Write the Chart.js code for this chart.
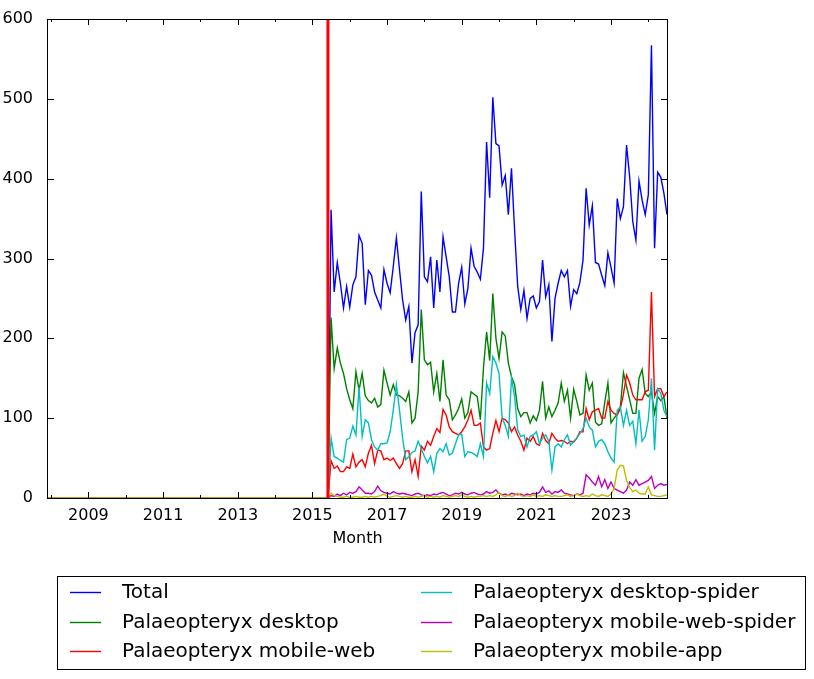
<!DOCTYPE html>
<html lang="en">
<head>
    <meta charset="UTF-8">
    <title>Palaeopteryx monthly pageviews</title>
    <script src="https://cdn.jsdelivr.net/npm/chart.js@4"></script>
    <style>
        body { margin: 0; background: #fff; }
        #chart { display: block; }
    </style>
</head>
<body>
    <canvas id="chart" width="814" height="679"></canvas>

    <script>
        // monthly values, first one is Jul 2015, last one Jul 2024
        const firstMonth = [2015, 7];
        const zeroSpan = [[2007, 12], [2015, 6]];   // series sit at 0 before the data starts
        const markerMonth = [2015, 6];               // red vertical line
        const axisEnd = [2024, 7];

        const total = [361, 258, 295, 269, 238, 265, 239, 267, 277, 329,
            319, 242, 285, 279, 258, 248, 238, 286, 269, 257,
            290, 326, 286, 248, 223, 240, 169, 207, 217, 384,
            277, 271, 302, 238, 298, 258, 327, 302, 277, 233,
            233, 269, 289, 243, 263, 313, 290, 283, 274, 313,
            446, 376, 502, 444, 441, 392, 404, 355, 413, 336,
            265, 236, 260, 225, 250, 253, 238, 246, 298, 252,
            267, 196, 250, 269, 285, 277, 285, 240, 261, 256,
            270, 298, 388, 342, 366, 295, 293, 279, 266, 307,
            289, 269, 375, 350, 365, 442, 402, 346, 323, 397,
            373, 355, 380, 567, 313, 408, 402, 382, 355];

        const desktop = [226, 162, 188, 169, 156, 137, 123, 112, 158, 135,
            156, 128, 122, 119, 125, 114, 117, 160, 144, 129,
            142, 129, 128, 125, 121, 133, 94, 100, 133, 236,
            173, 167, 170, 133, 156, 121, 173, 129, 123, 98,
            104, 112, 124, 100, 107, 133, 130, 127, 98, 163,
            208, 172, 256, 200, 175, 208, 203, 169, 152, 142,
            112, 102, 107, 107, 94, 103, 97, 110, 146, 100,
            114, 102, 110, 119, 144, 121, 135, 100, 136, 121,
            104, 106, 154, 135, 144, 95, 91, 93, 120, 144,
            94, 100, 105, 114, 157, 140, 123, 106, 106, 150,
            161, 131, 127, 133, 106, 127, 122, 127, 100];

        const mobileWeb = [47, 37, 40, 33, 33, 39, 37, 55, 39, 45,
            48, 39, 56, 66, 43, 60, 59, 48, 50, 47,
            50, 43, 37, 43, 59, 59, 33, 48, 27, 65,
            60, 71, 66, 77, 87, 82, 111, 104, 89, 83,
            81, 79, 83, 89, 98, 110, 91, 91, 94, 64,
            60, 62, 81, 97, 83, 100, 98, 94, 83, 89,
            79, 71, 60, 75, 71, 77, 68, 66, 81, 72,
            68, 81, 75, 71, 72, 71, 68, 71, 70, 75,
            83, 83, 112, 98, 108, 110, 112, 100, 100, 121,
            110, 106, 104, 112, 130, 154, 144, 129, 123, 123,
            123, 133, 135, 258, 127, 137, 137, 127, 133];

        const desktopSpider = [75, 52, 50, 47, 45, 73, 75, 90, 79, 139,
            77, 98, 94, 73, 64, 60, 68, 68, 69, 83,
            110, 142, 110, 75, 48, 52, 57, 59, 71, 62,
            52, 44, 52, 33, 56, 62, 58, 68, 54, 56,
            68, 79, 80, 52, 58, 57, 55, 52, 68, 52,
            144, 131, 177, 169, 156, 100, 91, 77, 150, 127,
            85, 77, 79, 64, 77, 79, 83, 68, 75, 79,
            71, 35, 64, 68, 64, 73, 79, 66, 71, 75,
            81, 87, 100, 89, 85, 64, 71, 73, 68, 58,
            50, 45, 110, 114, 91, 110, 91, 96, 68, 110,
            71, 77, 98, 150, 60, 137, 131, 110, 102];

        const mobileWebSpider = [3, 2, 5, 3, 6, 4, 7, 6, 8, 14,
            10, 6, 6, 5, 8, 15, 9, 7, 6, 5,
            8, 6, 5, 6, 5, 4, 3, 5, 6, 4,
            3, 4, 3, 5, 4, 6, 7, 5, 3, 4,
            6, 5, 7, 5, 4, 6, 7, 5, 4, 5,
            8, 6, 7, 10, 6, 4, 5, 3, 6, 5,
            4, 5, 3, 5, 4, 6, 5, 7, 14, 7,
            9, 5, 8, 7, 10, 6, 5, 4, 3, 5,
            4, 6, 29, 25, 20, 16, 27, 14, 23, 12,
            20, 12, 10, 8, 6, 10, 20, 16, 23, 16,
            18, 20, 22, 27, 12, 16, 18, 16, 17];

        const mobileApp = [6, 3, 2, 1, 1, 2, 1, 1, 2, 1,
            1, 2, 1, 2, 1, 2, 3, 5, 2, 1,
            2, 3, 2, 1, 2, 1, 1, 2, 1, 2,
            3, 1, 2, 1, 2, 1, 3, 2, 1, 2,
            3, 2, 4, 2, 1, 2, 1, 2, 2, 3,
            2, 3, 2, 4, 7, 3, 2, 4, 2, 3,
            6, 3, 2, 3, 2, 4, 2, 3, 2, 4,
            3, 2, 3, 2, 2, 3, 4, 2, 3, 5,
            3, 2, 3, 2, 5, 3, 2, 4, 3, 2,
            5, 12, 35, 41, 40, 22, 13, 8, 10, 6,
            5, 5, 14, 4, 3, 2, 2, 3, 4];

        const seriesNames = ['Total', 'Palaeopteryx desktop', 'Palaeopteryx mobile-web',
            'Palaeopteryx desktop-spider', 'Palaeopteryx mobile-web-spider', 'Palaeopteryx mobile-app'];
        const seriesColors = ['#0000ff', '#008000', '#ff0000', '#00bfbf', '#bf00bf', '#bfbf00'];
        const seriesValues = [total, desktop, mobileWeb, desktopSpider, mobileWebSpider, mobileApp];

        const yearTicks = [2008, 2009, 2010, 2011, 2012, 2013, 2014, 2015, 2016,
            2017, 2018, 2019, 2020, 2021, 2022, 2023, 2024];
        const yTicks = [0, 100, 200, 300, 400, 500, 600];

        function monthX(year, month) {
            return year + (month - 1) / 12;
        }

        function toPoints(values) {
            const pts = zeroSpan.map(m => ({ x: monthX(m[0], m[1]), y: 0 }));
            values.forEach((v, i) => pts.push({ x: monthX(firstMonth[0], firstMonth[1] + i), y: v }));
            return pts;
        }

        const markerX = monthX(markerMonth[0], markerMonth[1]);

        const datasets = seriesNames.map((name, i) => ({
            label: name,
            data: toPoints(seriesValues[i]),
            borderColor: seriesColors[i],
            borderWidth: 1.4,
            pointRadius: 0,
            fill: false,
            order: seriesNames.length - i
        }));
        datasets.push({
            label: 'marker',
            data: [{ x: markerX, y: yTicks[0] }, { x: markerX, y: yTicks[yTicks.length - 1] }],
            borderColor: '#ff0000',
            borderWidth: 3,
            pointRadius: 0,
            order: 0
        });

        // inward ticks and the box round the axes, like matplotlib
        const frame = {
            id: 'frame',
            afterDatasetsDraw(chart) {
                const { ctx, chartArea: a, scales: { x, y } } = chart;
                ctx.save();
                ctx.strokeStyle = '#000';
                ctx.lineWidth = 1;
                ctx.beginPath();
                yearTicks.forEach(yr => {
                    const px = Math.round(x.getPixelForValue(yr)) + 0.5;
                    const len = yr % 2 ? 6 : 3;
                    ctx.moveTo(px, a.bottom); ctx.lineTo(px, a.bottom - len);
                    ctx.moveTo(px, a.top); ctx.lineTo(px, a.top + len);
                });
                yTicks.forEach(v => {
                    const py = Math.round(y.getPixelForValue(v)) + 0.5;
                    ctx.moveTo(a.left, py); ctx.lineTo(a.left + 6, py);
                    ctx.moveTo(a.right, py); ctx.lineTo(a.right - 6, py);
                });
                ctx.stroke();
                ctx.strokeRect(Math.round(a.left) - 0.5, Math.round(a.top) + 0.5,
                    Math.round(a.right - a.left) + 1, Math.round(a.bottom - a.top));
                ctx.restore();
            }
        };

        // two-column legend in a box under the plot
        const boxLegend = {
            id: 'boxLegend',
            afterDraw(chart) {
                const ctx = chart.ctx;
                const box = { left: 57, top: 576, right: 805, bottom: 669 };
                const colX = [70, 421];
                const rowY = [592, 622, 651];
                ctx.save();
                ctx.fillStyle = '#fff';
                ctx.fillRect(box.left, box.top, box.right - box.left, box.bottom - box.top);
                ctx.strokeStyle = '#000';
                ctx.lineWidth = 1;
                ctx.strokeRect(box.left + 0.5, box.top + 0.5, box.right - box.left, box.bottom - box.top);
                ctx.font = '20px "DejaVu Sans"';
                ctx.textBaseline = 'middle';
                ctx.fillStyle = '#000';
                seriesNames.forEach((name, i) => {
                    const cx = colX[Math.floor(i / 3)];
                    const cy = rowY[i % 3];
                    ctx.strokeStyle = seriesColors[i];
                    ctx.lineWidth = 1.4;
                    ctx.beginPath();
                    ctx.moveTo(cx, cy + 0.5);
                    ctx.lineTo(cx + 31, cy + 0.5);
                    ctx.stroke();
                    ctx.fillText(name, cx + 52, cy + 1);
                });
                ctx.restore();
            }
        };

        Chart.defaults.font.family = '"DejaVu Sans"';
        Chart.defaults.font.size = 16;
        Chart.defaults.color = '#000';

        new Chart(document.getElementById('chart'), {
            type: 'line',
            data: { datasets: datasets },
            options: {
                responsive: false,
                animation: false,
                events: [],
                devicePixelRatio: 1,
                layout: { padding: { left: 0, top: 19, right: 147, bottom: 131 } },
                plugins: { legend: { display: false }, tooltip: { enabled: false } },
                scales: {
                    x: {
                        type: 'linear',
                        min: monthX(zeroSpan[0][0], zeroSpan[0][1]),
                        max: monthX(axisEnd[0], axisEnd[1]),
                        afterBuildTicks: s => { s.ticks = yearTicks.map(v => ({ value: v })); },
                        afterFit: s => { s.height = 50; },
                        grid: { display: false },
                        border: { display: false },
                        ticks: {
                            autoSkip: false,
                            maxRotation: 0,
                            padding: 0,
                            callback: v => (v % 2 === 1 ? String(v) : '')
                        },
                        title: { display: true, text: 'Month', padding: 0 }
                    },
                    y: {
                        min: 0,
                        max: 600,
                        afterBuildTicks: s => { s.ticks = yTicks.map(v => ({ value: v })); },
                        afterFit: s => { s.width = 48; },
                        grid: { display: false },
                        border: { display: false },
                        ticks: { padding: 7 }
                    }
                }
            },
            plugins: [frame, boxLegend]
        });
    </script>
</body>
</html>
